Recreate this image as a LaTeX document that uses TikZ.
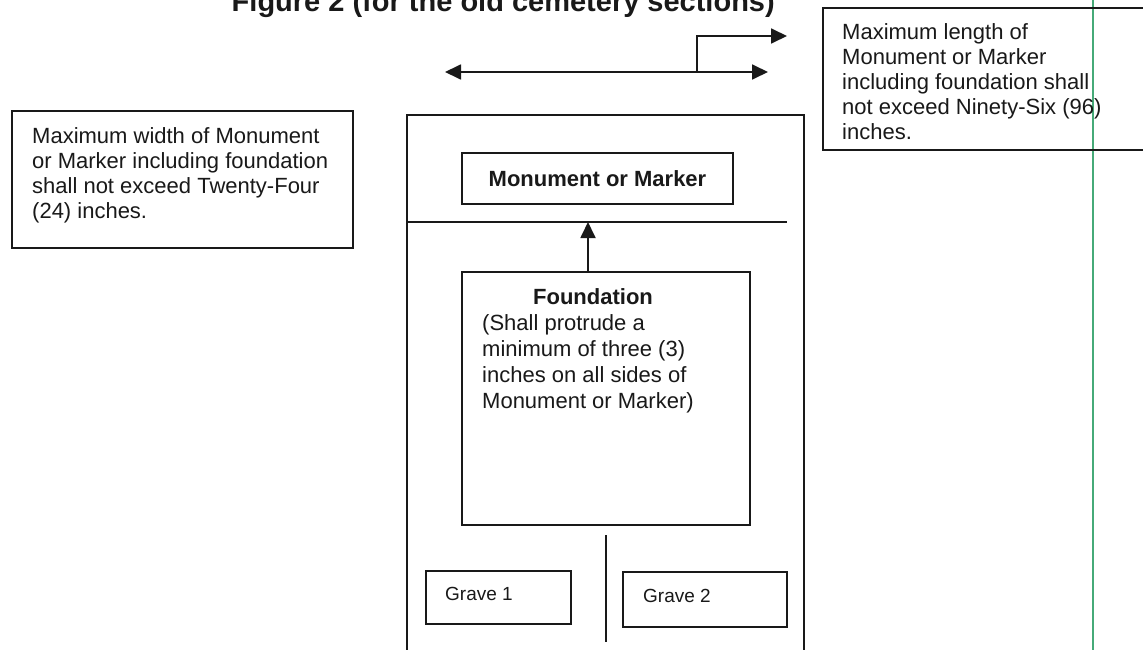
\documentclass[tikz,border=0pt]{standalone}
\usepackage{fontspec}
\setmainfont{Liberation Sans}
\usetikzlibrary{arrows.meta}
\definecolor{ink}{RGB}{25,25,25}
\definecolor{scanline}{RGB}{70,170,120}
\begin{document}
\begin{tikzpicture}[x=1pt,y=-1pt,
  ln/.style={line width=1.8pt, draw=ink},
  boxn/.style={ln, rectangle, inner sep=0pt, outer sep=0pt, anchor=north west},
  txt/.style={inner sep=0pt, text=ink, font=\fontsize{22}{25}\selectfont, align=left, anchor=north west},
  gtxt/.style={inner sep=0pt, text=ink, font=\fontsize{19}{22}\selectfont, anchor=base west},
  tip/.style={-{Triangle[length=16pt,width=15pt]}},
  tips/.style={{Triangle[length=16pt,width=15pt]}-{Triangle[length=16pt,width=15pt]}}
]
\clip (0,0) rectangle (1143,650);
\fill[white] (0,0) rectangle (1143,650);

% title (clipped at the top edge, as in the reference)
\node[inner sep=0pt, text=ink, anchor=base east, font=\bfseries\fontsize{29}{32}\selectfont] (title) at (775,12) {Figure 2 (for the old cemetery sections)};

% scan line
\draw[scanline, line width=1.1pt] (1093,0) -- (1093,650);

% left note
\node[boxn, minimum width=341pt, minimum height=137pt] (leftbox) at (12,111) {};
\node[txt] (lefttext) at (32,127) {Maximum width of Monument\\or Marker including foundation\\shall not exceed Twenty-Four\\(24) inches.};

% right note
\node[boxn, minimum width=340pt, minimum height=142pt] (rightbox) at (823,8) {};
\node[txt] (righttext) at (842,23) {Maximum length of\\Monument or Marker\\including foundation shall\\not exceed Ninety-Six (96)\\inches.};

% outer plot frame
\node[boxn, minimum width=397pt, minimum height=540pt] (plot) at (407,115) {};

% monument
\node[boxn, minimum width=271pt, minimum height=51pt] (monument) at (462,153) {};
\node[inner sep=0pt, text=ink, font=\bfseries\fontsize{22}{25}\selectfont] (montext) at (monument.center) {Monument or Marker};

% divider under monument
\coordinate (divL) at (407,222);
\coordinate (divR) at (787,222);
\draw[ln] (divL) -- (divR);

% foundation
\node[boxn, minimum width=288pt, minimum height=253pt] (foundation) at (462,272) {};
\node[inner sep=0pt, text=ink, anchor=base, font=\bfseries\fontsize{22}{25}\selectfont] (foundtitle) at (593,304) {Foundation};
\node[txt, font=\fontsize{22}{26}\selectfont] (foundtext) at (482,314) {(Shall protrude a\\minimum of three (3)\\inches on all sides of\\Monument or Marker)};

% arrow from foundation to divider
\coordinate (arrowtop) at (588,222);
\draw[ln, tip] (foundation.north -| arrowtop) -- (arrowtop);

% graves
\coordinate (gdivT) at (606,535);
\coordinate (gdivB) at (606,642);
\draw[ln] (gdivT) -- (gdivB);
\node[boxn, minimum width=145pt, minimum height=53pt] (grave1) at (426,571) {};
\node[gtxt] (g1text) at (445,600) {Grave 1};
\node[boxn, minimum width=164pt, minimum height=55pt] (grave2) at (623,572) {};
\node[gtxt] (g2text) at (643,602) {Grave 2};

% dimension arrows
\coordinate (dimL) at (445,72);
\coordinate (dimR) at (768,72);
\coordinate (elbow) at (697,72);
\coordinate (elbowTop) at (697,36);
\coordinate (elbowTip) at (787,36);
\draw[ln, tips] (dimL) -- (dimR);
\draw[ln, tip] (elbow) -- (elbowTop) -- (elbowTip);
\end{tikzpicture}
\end{document}
